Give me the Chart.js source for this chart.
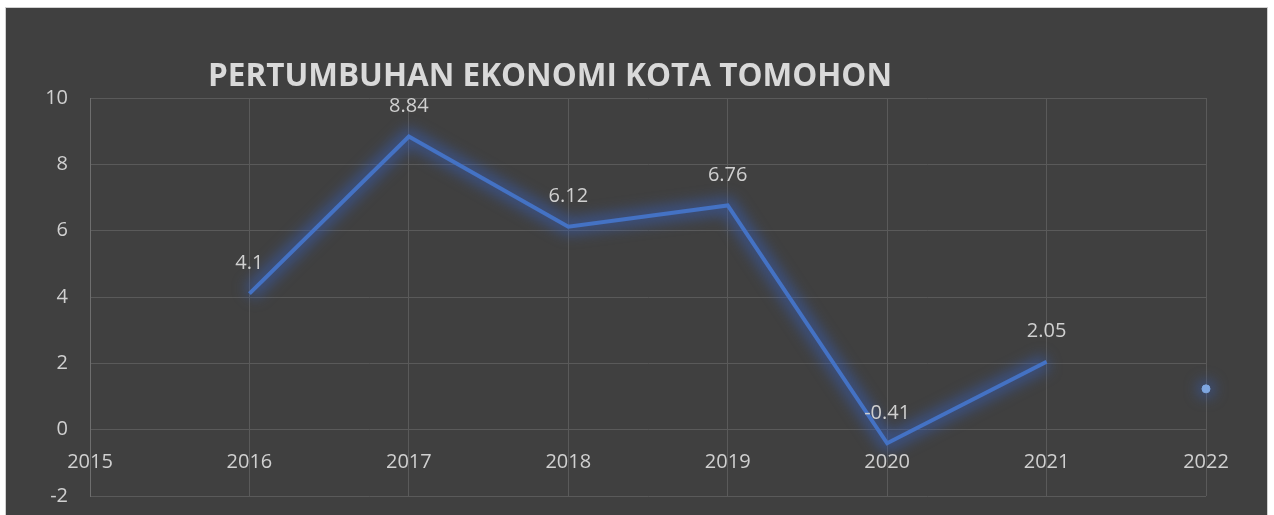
<!DOCTYPE html>
<html>
<head>
<meta charset="utf-8">
<script src="https://cdn.jsdelivr.net/npm/chart.js@4/dist/chart.umd.min.js"></script>
<style>
  html, body { margin: 0; padding: 0; background: #ffffff; }
  #box {
    position: absolute; left: 5px; top: 7px;
    width: 1261px; height: 507px;
    background: #404040; border: 1px solid #d0d0d0; border-bottom: none;
  }
  #box canvas { display: block; }
</style>
</head>
<body>
<div id="box"><canvas id="growthChart" width="1261" height="507"></canvas></div>
<script>
const chartTitle = "PERTUMBUHAN EKONOMI KOTA TOMOHON";
const years = [2016, 2017, 2018, 2019, 2020, 2021];
const growth = [4.1, 8.84, 6.12, 6.76, -0.41, 2.05];
const lonePoint = { year: 2022, value: 1.23 };

const textColor = "#d0d0d0";
const gridColor = "#5a5a5a";
const tickFont = "20px 'Open Sans'";

// soft blue glow under the line and the lone point
const glowPlugin = {
  id: "glow",
  beforeDatasetsDraw(chart) {
    const ctx = chart.ctx;
    const line = chart.getDatasetMeta(0).data;
    const dot = chart.getDatasetMeta(1).data[0];
    ctx.save();
    ctx.filter = "blur(7px)";
    ctx.strokeStyle = "rgba(55, 95, 185, 0.55)";
    ctx.lineWidth = 16;
    ctx.lineJoin = "round";
    ctx.beginPath();
    line.forEach((pt, i) => (i ? ctx.lineTo(pt.x, pt.y) : ctx.moveTo(pt.x, pt.y)));
    ctx.stroke();
    ctx.fillStyle = "rgba(55, 95, 185, 0.55)";
    ctx.beginPath();
    ctx.arc(dot.x, dot.y, 9, 0, Math.PI * 2);
    ctx.fill();
    ctx.restore();
  },
};

// year labels sit just under the zero line, not at the bottom
const yearLabelPlugin = {
  id: "yearLabels",
  afterDraw(chart) {
    const ctx = chart.ctx;
    const xs = chart.scales.x;
    const y0 = chart.scales.y.getPixelForValue(0);
    ctx.save();
    ctx.font = tickFont;
    ctx.fillStyle = textColor;
    ctx.textAlign = "center";
    ctx.textBaseline = "top";
    xs.ticks.forEach((t) => {
      ctx.fillText(String(t.value), xs.getPixelForValue(t.value), y0 + 23);
    });
    ctx.restore();
  },
};

const labelPlugin = {
  id: "valueLabels",
  afterDatasetsDraw(chart) {
    const ctx = chart.ctx;
    const meta = chart.getDatasetMeta(0);
    ctx.save();
    ctx.font = tickFont;
    ctx.fillStyle = textColor;
    ctx.textAlign = "center";
    ctx.textBaseline = "middle";
    meta.data.forEach((pt, i) => {
      ctx.fillText(String(growth[i]), pt.x, pt.y - 30);
    });
    ctx.restore();
  },
};

const titlePlugin = {
  id: "leftTitle",
  afterDraw(chart) {
    const ctx = chart.ctx;
    ctx.save();
    ctx.font = "bold 32px 'Open Sans'";
    ctx.fillStyle = "#d9d9d9";
    ctx.textAlign = "center";
    ctx.textBaseline = "alphabetic";
    ctx.fillText(chartTitle, 544, 78, 684);
    ctx.restore();
  },
};

const ctx = document.getElementById("growthChart").getContext("2d");
new Chart(ctx, {
  type: "line",
  data: {
    datasets: [
      {
        label: "Pertumbuhan",
        data: years.map((y, i) => ({ x: y, y: growth[i] })),
        borderColor: "#4472c4",
        borderWidth: 4,
        pointRadius: 0,
        tension: 0,
        clip: false,
      },
      {
        label: "2022",
        data: [{ x: lonePoint.year, y: lonePoint.value }],
        showLine: false,
        pointRadius: 4,
        pointBackgroundColor: "#7ea6e0",
        pointBorderColor: "#7ea6e0",
        clip: false,
      },
    ],
  },
  options: {
    responsive: false,
    animation: false,
    layout: { padding: { left: 0, right: 61, top: 90, bottom: 19 } },
    plugins: {
      legend: { display: false },
      title: { display: false },
      tooltip: { enabled: false },
    },
    scales: {
      x: {
        type: "linear",
        position: "bottom",
        min: 2015,
        max: 2022,
        afterFit: (scale) => { scale.height = 0; },
        ticks: { stepSize: 1, display: false },
        grid: { color: gridColor, drawTicks: false },
        border: { display: false },
      },
      y: {
        min: -2,
        max: 10,
        afterFit: (scale) => {
          scale.width = 84;
          // tick padding would otherwise push the plot bottom up
          scale.paddingTop = 0;
          scale.paddingBottom = 0;
        },
        ticks: {
          stepSize: 2,
          padding: 22,
          color: textColor,
          font: { family: "'Open Sans'", size: 20 },
        },
        grid: { color: gridColor, drawTicks: false },
        border: { color: "#6e6e6e" },
      },
    },
  },
  plugins: [glowPlugin, yearLabelPlugin, labelPlugin, titlePlugin],
});
</script>
</body>
</html>
